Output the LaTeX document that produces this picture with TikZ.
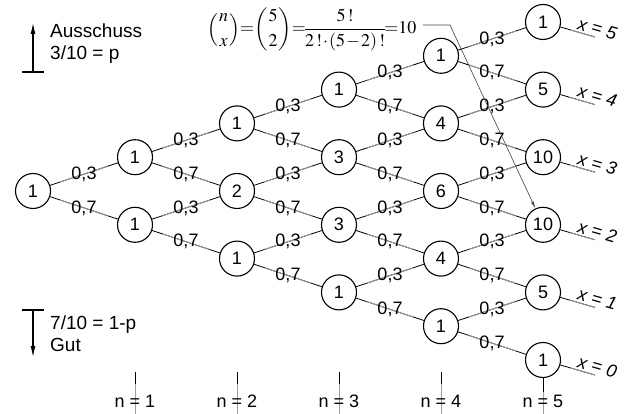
\documentclass[tikz,border=0pt]{standalone}
\usepackage{amsmath}
\usepackage{mathptmx}
\usepackage[no-math]{fontspec}
\setmainfont{Liberation Sans}
\usetikzlibrary{arrows.meta}

\definecolor{linegray}{gray}{0.62}

\tikzset{
  knot/.style={circle, draw, line width=1.1pt, fill=white, minimum size=35pt,
    inner sep=0pt, font=\fontsize{18}{18}\selectfont},
  edge/.style={line width=0.8pt},
  edgemid/.style={line width=0.8pt, linegray, shorten <=11pt, shorten >=11pt},
  edgeout/.style={line width=0.8pt, linegray, shorten <=10pt},
  prob/.style={midway, black, inner sep=0pt, font=\fontsize{18}{18}\selectfont},
  xlab/.style={at end, sloped, above, inner sep=2pt, black,
    font=\fontsize{18}{18}\selectfont\itshape},
  stufe/.style={anchor=base, inner sep=0pt, font=\fontsize{18}{18}\selectfont},
  legende/.style={anchor=west, align=left, inner sep=2pt,
    font=\fontsize{19}{22}\selectfont},
  pfeil/.style={line width=1.6pt, -{Latex[length=12pt,width=5pt]}},
}

\newcommand{\bink}[2]{\left(\genfrac{}{}{0pt}{0}{#1}{#2}\right)}

\begin{document}
\begin{tikzpicture}[x=1pt,y=-1pt]
\useasboundingbox (0,0) rectangle (624,414);

% Knoten
\node[knot] (v00) at (33,191) {1};

\node[knot] (v10) at (135,157.2) {1};
\node[knot] (v11) at (135,224.8) {1};

\node[knot] (v20) at (237,123.4) {1};
\node[knot] (v21) at (237,191) {2};
\node[knot] (v22) at (237,258.6) {1};

\node[knot] (v30) at (339,89.6) {1};
\node[knot] (v31) at (339,157.2) {3};
\node[knot] (v32) at (339,224.8) {3};
\node[knot] (v33) at (339,292.4) {1};

\node[knot] (v40) at (441,55.8) {1};
\node[knot] (v41) at (441,123.4) {4};
\node[knot] (v42) at (441,191) {6};
\node[knot] (v43) at (441,258.6) {4};
\node[knot] (v44) at (441,326.2) {1};

\node[knot] (v50) at (543,22) {1};
\node[knot] (v51) at (543,89.6) {5};
\node[knot] (v52) at (543,157.2) {10};
\node[knot] (v53) at (543,224.8) {10};
\node[knot] (v54) at (543,292.4) {5};
\node[knot] (v55) at (543,360) {1};

% Kanten
\foreach \k/\kk in {0/1,1/2,2/3,3/4,4/5}
  \foreach \j in {0,...,\k}{
    \pgfmathtruncatemacro\jj{\j+1}
    \draw[edge] (v\k\j) -- (v\kk\j);
    \draw[edgemid] (v\k\j) -- (v\kk\j) node[prob] {0,3};
    \draw[edge] (v\k\j) -- (v\kk\jj);
    \draw[edgemid] (v\k\j) -- (v\kk\jj) node[prob] {0,7};
  }

% x = 5 ... 0
\foreach \j/\y in {0/37,1/104.6,2/172.2,3/239.8,4/307.4,5/375}{
  \pgfmathtruncatemacro\xx{5-\j}
  \coordinate (x\j) at (595,\y);
  \draw[edge] (v5\j) -- (x\j);
  \draw[edgeout] (v5\j) -- (x\j) node[xlab] {x = \xx};
}

% Formel
\node[font=\fontsize{18}{22}\selectfont, inner sep=0pt, anchor=base west] (formel) at (207,34)
  {$\medmuskip=1mu\thickmuskip=0mu\displaystyle
   \bink{n}{x}\!{=}\!\bink{5}{2}\!{=}\!\frac{5\mkern2mu!}{2\mkern2mu!\cdot(5-2)\mkern2mu!}\!{=}10$};
\coordinate (lstart) at (423,25);
\coordinate (knick) at (450,25);
\draw[line width=0.6pt, darkgray, -{Latex[length=7pt,width=3pt]}]
  (lstart) -- (knick) -- (v53);

% n = 1 ... 5
\foreach \n/\x in {1/135,2/237,3/339,4/441}{
  \coordinate (o\n) at (\x,372);
  \coordinate (u\n) at (\x,414);
  \draw[edge, linegray] (o\n) -- (u\n);
  \draw[edge] (o\n) -- ++(0,12);
  \node[stufe] (n\n) at (\x,407) {n = \n};
}
\coordinate (u5) at (543,414);
\draw[edge, linegray] (v55) -- (u5);
\draw[edge] (v55.south) -- ++(0,14);
\node[stufe] (n5) at (543,407) {n = 5};

% Legende
\coordinate (aoben) at (33,22);
\coordinate (aunten) at (33,72);
\draw[pfeil] (aunten) -- (aoben);
\draw[line width=1.6pt] ([xshift=-11pt]aunten) -- ([xshift=11pt]aunten);
\node[legende] (aus) at (48,44) {Ausschuss\\3/10 = p};

\coordinate (goben) at (33,310);
\coordinate (gunten) at (33,358);
\draw[pfeil] (goben) -- (gunten);
\draw[line width=1.6pt] ([xshift=-11pt]goben) -- ([xshift=11pt]goben);
\node[legende] (gut) at (48,334) {7/10 = 1-p\\Gut};
\end{tikzpicture}
\end{document}
